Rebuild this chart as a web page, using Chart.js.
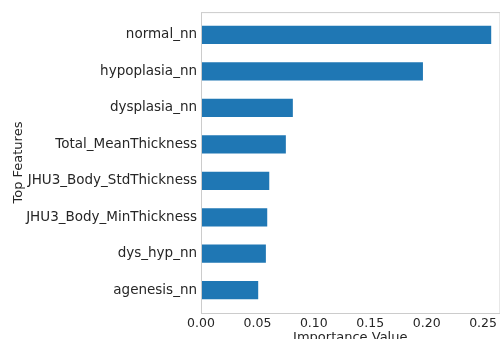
<!DOCTYPE html>
<html>
<head>
<meta charset="utf-8">
<script src="https://cdn.jsdelivr.net/npm/chart.js@4/dist/chart.umd.min.js"></script>
<style>
	html, body { margin: 0; padding: 0; background: #fff; overflow: hidden; }
	#wrap { width: 500px; height: 345px; position: relative; }
</style>
</head>
<body>
<div id="wrap"><canvas id="imp_chart"></canvas></div>
<script>
// feature importances, top feature first
const features = ["normal_nn", "hypoplasia_nn", "dysplasia_nn", "Total_MeanThickness",
	"JHU3_Body_StdThickness", "JHU3_Body_MinThickness", "dys_hyp_nn", "agenesis_nn"]
const importance = [0.2572, 0.1967, 0.0814, 0.0752, 0.0605, 0.0587, 0.0575, 0.0507]
const xTicks = [0.00, 0.05, 0.10, 0.15, 0.20, 0.25]

const textColor = "#262626"
const family = "'DejaVu Sans', sans-serif"

// outline of the axes box (matplotlib spines)
const spines = {
	id: "spines",
	afterDraw(chart) {
		const { ctx, chartArea: a } = chart
		ctx.save()
		ctx.strokeStyle = "#cccccc"
		ctx.lineWidth = 1
		ctx.strokeRect(a.left + 0.5, a.top + 0.5, a.right - a.left, a.bottom - a.top)
		ctx.restore()
	}
}

new Chart(document.getElementById("imp_chart"), {
	type: "bar",
	data: {
		datasets: [{
			data: importance.map((v, i) => ({ x: v, y: i })),
			backgroundColor: "#1f77b4",
			borderWidth: 0,
			barPercentage: 0.5,
			categoryPercentage: 1
		}]
	},
	options: {
		indexAxis: "y",
		responsive: true,
		maintainAspectRatio: false,
		animation: false,
		layout: { padding: { top: 12, right: 0, left: 11, bottom: 0 } },
		plugins: { legend: { display: false }, tooltip: { enabled: false } },
		scales: {
			x: {
				type: "linear",
				min: 0,
				max: 0.2646,
				grid: { display: false, drawTicks: false },
				border: { display: false },
				afterBuildTicks: axis => { axis.ticks = xTicks.map(v => ({ value: v })) },
				afterFit: axis => { axis.height = 32 },
				ticks: { color: textColor, font: { family, size: 12.5 }, padding: 3, maxRotation: 0, autoSkip: false,
					callback: v => v.toFixed(2) },
				title: { display: true, text: "Importance Value", color: textColor, font: { family, size: 13 }, padding: { top: 0, bottom: 0 } }
			},
			y: {
				type: "linear",
				reverse: true,
				offset: false,
				min: -0.625,
				max: 7.625,
				grid: { display: false, drawTicks: false },
				border: { display: false },
				afterBuildTicks: axis => { axis.ticks = features.map((f, i) => ({ value: i })) },
				afterFit: axis => { axis.width = 190 },
				ticks: { color: textColor, font: { family, size: 13.5 }, padding: 4, autoSkip: false,
					callback: v => features[v] },
				title: { display: true, text: "Top Features", color: textColor, font: { family, size: 13 }, padding: { top: 0, bottom: 0 } }
			}
		}
	},
	plugins: [spines]
})
</script>
</body>
</html>
